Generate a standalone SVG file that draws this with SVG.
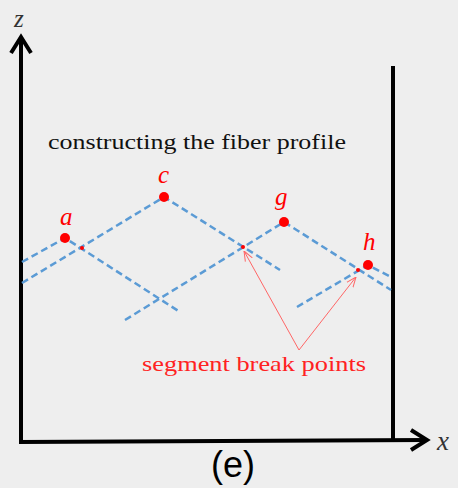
<svg xmlns="http://www.w3.org/2000/svg" width="458" height="488" viewBox="0 0 458 488">
<defs>
<style>
.axis{stroke:#000;stroke-width:4;fill:none}
.dash{stroke:#5b9bd5;stroke-width:2.5;stroke-dasharray:7 4;fill:none}
.pt{fill:#ff0000}
.lbl{font-family:"Liberation Serif",serif;font-style:italic;fill:#ff0000;font-size:25px}
.ptr{stroke:#ff6666;stroke-width:1;fill:none}
</style>
<marker id="ah" viewBox="0 0 10 10" refX="10" refY="5" markerWidth="10" markerHeight="10" markerUnits="userSpaceOnUse" orient="auto">
<path d="M0,1 L10,5 L0,9" fill="none" stroke="#ff6666" stroke-width="1"/>
</marker>
</defs>
<rect width="458" height="488" fill="#eeeeee"/>
<g id="axes">
<line class="axis" x1="21" y1="443" x2="21" y2="37"/>
<polyline class="axis" points="11,53 21,37 31,53"/>
<line class="axis" x1="19" y1="442" x2="427" y2="440"/>
<polyline class="axis" points="411,430 427,440 411,450"/>
<line class="axis" x1="393" y1="66" x2="393" y2="441"/>
<text x="14" y="27" font-family="'Liberation Serif',serif" font-style="italic" font-size="25" fill="#333">z</text>
<text x="437" y="450" font-family="'Liberation Serif',serif" font-style="italic" font-size="27" fill="#333">x</text>
</g>
<text x="48" y="149" font-family="'Liberation Serif',serif" font-size="22" fill="#111" textLength="298" lengthAdjust="spacingAndGlyphs">constructing the fiber profile</text>
<g id="connectors">
<polyline class="dash" points="22,262 65,238 180,312"/>
<polyline class="dash" points="22,283 164,197 280,270"/>
<polyline class="dash" points="125,320 284,222 391,290"/>
<polyline class="dash" points="297,307 368,265 391,277"/>
<line class="ptr" x1="299" y1="350" x2="244" y2="251" marker-end="url(#ah)"/>
<line class="ptr" x1="299" y1="350" x2="356" y2="277" marker-end="url(#ah)"/>
</g>
<g id="a"><circle class="pt" cx="65" cy="238" r="5"/><text class="lbl" x="60" y="225">a</text></g>
<g id="c"><circle class="pt" cx="164" cy="197" r="5"/><text class="lbl" x="158" y="183">c</text></g>
<g id="g"><circle class="pt" cx="284" cy="222" r="5"/><text class="lbl" x="275" y="205">g</text></g>
<g id="h"><circle class="pt" cx="368" cy="265" r="5"/><text class="lbl" x="363" y="250">h</text></g>
<g id="breaks">
<circle class="pt" cx="82" cy="248" r="2"/>
<circle class="pt" cx="243" cy="247" r="2"/>
<circle class="pt" cx="358" cy="270" r="2"/>
</g>
<text x="142" y="371" font-family="'Liberation Serif',serif" font-size="22" fill="#ff2222" textLength="224" lengthAdjust="spacingAndGlyphs">segment break points</text>
<text x="233" y="477" font-family="'Liberation Sans',Arial,sans-serif" font-size="36" fill="#000" text-anchor="middle">(e)</text>
</svg>
